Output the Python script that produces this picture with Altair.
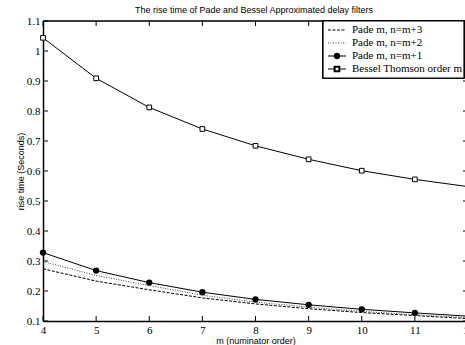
import altair as alt
import pandas as pd

m_values = [4, 5, 6, 7, 8, 9, 10, 11, 12]
pade_m3 = [0.274, 0.233, 0.204, 0.177, 0.157, 0.141, 0.128, 0.118, 0.108]
pade_m2 = [0.298, 0.252, 0.218, 0.186, 0.163, 0.146, 0.132, 0.121, 0.111]
pade_m1 = [0.328, 0.268, 0.228, 0.196, 0.172, 0.154, 0.139, 0.127, 0.116]
bessel = [1.044, 0.909, 0.812, 0.740, 0.684, 0.639, 0.601, 0.572, 0.548]

series_names = ["Pade m, n=m+3", "Pade m, n=m+2", "Pade m, n=m+1", "Bessel Thomson order m"]
x_ticks = [4, 5, 6, 7, 8, 9, 10, 11, 12]
y_ticks = [0.1, 0.2, 0.3, 0.4, 0.5, 0.6, 0.7, 0.8, 0.9, 1.0, 1.1]

SERIF = "Liberation Serif"
SANS = "Liberation Sans"

W, H = 422, 300      # visible plot area (the original figure runs past the right edge)
FULL_W = 425         # full axis length, m=12 falls just outside the window

rows = []
for name, vals in zip(series_names, [pade_m3, pade_m2, pade_m1, bessel]):
    for mv, v in zip(m_values, vals):
        rows.append({"m": mv, "t": v, "series": name})
df = pd.DataFrame(rows)

xs = alt.Scale(domain=[4, 12], range=[0, FULL_W], nice=False, zero=False)
ys = alt.Scale(domain=[0.1, 1.1], nice=False, zero=False)

x_axis = alt.Axis(
    values=x_ticks, ticks=False, domain=True, domainColor="black", domainWidth=1.5,
    grid=False, labelPadding=3, labelOverlap=False, labelFlush=False,
    labelFont=SERIF, labelFontSize=11, labelColor="black",
    title="m (numinator order)", titleFont=SANS, titleFontSize=9,
    titleFontWeight="normal", titleColor="black", titlePadding=1)
y_axis = alt.Axis(
    values=y_ticks, format=".2~f", ticks=False, domain=True, domainColor="black", domainWidth=1.5,
    grid=False, labelPadding=3, labelOverlap=False, labelFlush=False,
    labelFont=SERIF, labelFontSize=11, labelColor="black",
    title="rise time (Seconds)", titleFont=SANS, titleFontSize=9,
    titleFontWeight="normal", titleColor="black", titlePadding=1)
X = alt.X("m:Q", scale=xs, axis=x_axis)
Y = alt.Y("t:Q", scale=ys, axis=y_axis)

base = alt.Chart(df)

def line_for(name, dash, color="black"):
    kw = dict(color=color, strokeWidth=1)
    if dash:
        kw["strokeDash"] = dash
    return base.transform_filter(alt.datum.series == name).mark_line(**kw).encode(x=X, y=Y)

l3 = line_for(series_names[0], [3, 1.5])
l2 = line_for(series_names[1], [1, 1.5], "#444444")
l1 = line_for(series_names[2], None)
lb = line_for(series_names[3], None)

p1 = base.transform_filter(alt.datum.series == series_names[2]).mark_point(
    shape="circle", filled=True, color="black", size=40, opacity=1).encode(x=X, y=Y)
pb = base.transform_filter(alt.datum.series == series_names[3]).mark_point(
    shape="square", filled=True, fill="white", stroke="black", strokeWidth=1, size=22, opacity=1).encode(x=X, y=Y)

# inward ticks on all four sides + top frame line (same axis definitions, so axes merge cleanly)
xt = pd.DataFrame({"m": x_ticks})
yt = pd.DataFrame({"t": y_ticks})
tick_b = alt.Chart(xt).mark_rule(color="black", strokeWidth=1).encode(
    x=X, y=alt.value(H), y2=alt.value(H - 5))
tick_t = alt.Chart(xt).mark_rule(color="black", strokeWidth=1).encode(
    x=X, y=alt.value(0), y2=alt.value(5))
tick_l = alt.Chart(yt).mark_rule(color="black", strokeWidth=1).encode(
    y=Y, x=alt.value(0), x2=alt.value(5))
tick_r = alt.Chart(yt).mark_rule(color="black", strokeWidth=1).encode(
    y=Y, x=alt.value(FULL_W), x2=alt.value(FULL_W - 5))
top_frame = alt.Chart(pd.DataFrame({"a": [0]})).mark_rule(color="black", strokeWidth=1.5).encode(
    x=alt.value(0), x2=alt.value(FULL_W), y=alt.value(0))

# legend
lx0, lx1, ly0, ly1 = 280, 421, 0, 57
leg_df = pd.DataFrame({"series": series_names})
leg_box = alt.Chart(leg_df).mark_rect(fill="white", stroke="black", strokeWidth=1.2).encode(
    x=alt.value(lx0), x2=alt.value(lx1), y=alt.value(ly0), y2=alt.value(ly1))
leg_layers = [leg_box]
ent_y = [9, 22, 35, 48]
dashes = [[3, 1.5], [1, 1.5], None, None]
colors = ["black", "#444444", "black", "black"]
for i, name in enumerate(series_names):
    d = leg_df[leg_df.series == name]
    kw = dict(color=colors[i], strokeWidth=1)
    if dashes[i]:
        kw["strokeDash"] = dashes[i]
    leg_layers.append(alt.Chart(d).mark_rule(**kw).encode(
        x=alt.value(285), x2=alt.value(303), y=alt.value(ent_y[i])))
    leg_layers.append(alt.Chart(d).mark_text(
        align="left", baseline="middle", font=SERIF, fontSize=11, color="black").encode(
        x=alt.value(309), y=alt.value(ent_y[i]), text="series:N"))
leg_layers.append(alt.Chart(leg_df[leg_df.series == series_names[2]]).mark_point(
    shape="circle", filled=True, color="black", size=40, opacity=1).encode(
    x=alt.value(294), y=alt.value(ent_y[2])))
leg_layers.append(alt.Chart(leg_df[leg_df.series == series_names[3]]).mark_point(
    shape="square", filled=True, fill="white", stroke="black", size=22, opacity=1).encode(
    x=alt.value(294), y=alt.value(ent_y[3])))

chart = alt.layer(
    l3, l2, l1, lb, p1, pb, tick_b, tick_t, tick_l, tick_r, top_frame, *leg_layers
).properties(
    width=W, height=H,
    title=alt.TitleParams("The rise time of Pade and Bessel Approximated delay filters",
                          font=SANS, fontSize=9, fontWeight="normal",
                          color="black", anchor="middle", frame="group", offset=0),
    autosize=alt.AutoSizeParams(type="none"),
    padding={"left": 43, "top": 21, "right": 0, "bottom": 24},
).configure_view(stroke=None).configure(background="white")

chart.save("out.html", embed_options={"renderer": "svg", "actions": False})
